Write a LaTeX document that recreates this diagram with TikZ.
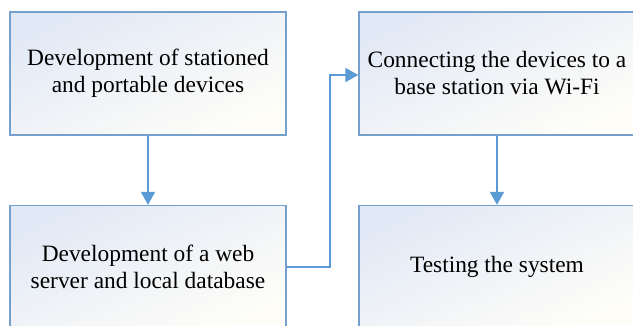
\documentclass[tikz,border=0pt]{standalone}
\usepackage{fontspec}
\setmainfont{Liberation Serif}
\newfontfamily\boxfont{Liberation Serif}
\usetikzlibrary{arrows.meta}
\definecolor{boxedge}{RGB}{118,160,204}
\definecolor{linkblue}{RGB}{91,155,213}
\definecolor{filltop}{RGB}{226,233,246}
\definecolor{fillbot}{RGB}{254,253,248}
\tikzset{
  x=1pt, y=-1pt,
  stagebox/.style={draw=boxedge, line width=1.4pt, minimum width=276pt, minimum height=123pt,
    inner sep=0pt, align=center, font=\boxfont\fontsize{23.4}{27}\selectfont,
    top color=filltop, bottom color=fillbot, shading angle=25},
  link/.style={draw=linkblue, line width=2pt, -{Triangle[width=14pt,length=13pt]}}
}
\begin{document}
\begin{tikzpicture}
\useasboundingbox (0,0) rectangle (633,325);
\clip (0,0) rectangle (633,325);
\fill[white] (0,0) rectangle (633,325);
\node[stagebox] (dev) at (148,73.5) {Development of stationed\\and portable devices};
\node[stagebox] (web) at (148,267) {Development of a web\\server and local database};
\node[stagebox] (conn) at (497,73.5) {Connecting the devices to a\\base station via Wi-Fi};
\node[stagebox] (test) at (497,267) {Testing the system};
\draw[link] (dev.south) -- (web.north);
\draw[link] (web.east) -- (330,267) -- (330,75) -- (conn.west |- 0,75);
\draw[link] (conn.south) -- (test.north);
\end{tikzpicture}
\end{document}
